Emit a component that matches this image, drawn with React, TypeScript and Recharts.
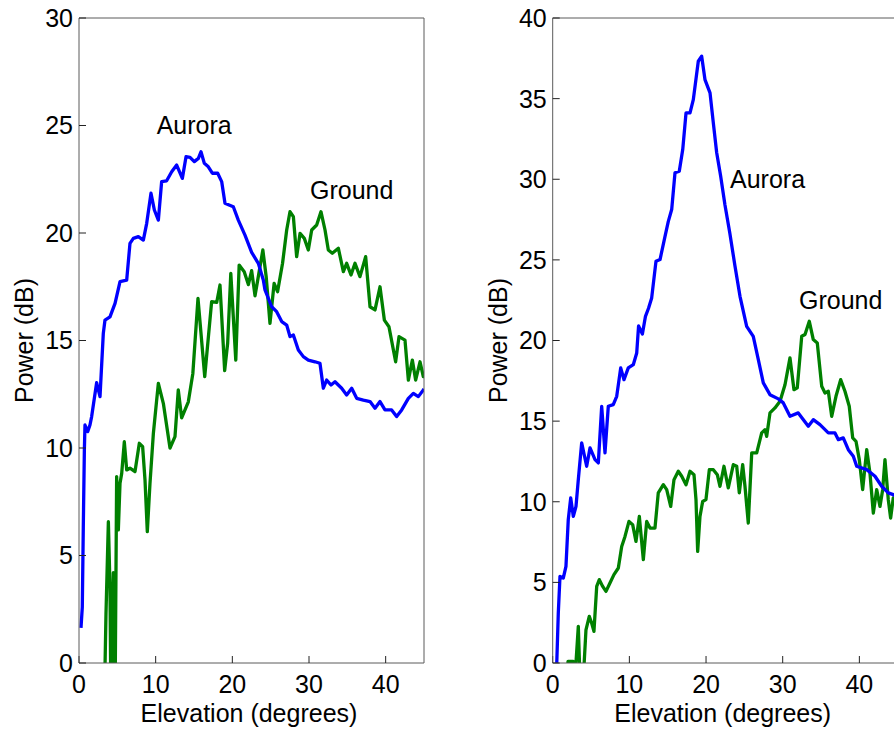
import React from 'react';
import { LineChart, Line, XAxis, YAxis, ReferenceDot } from 'recharts';

const FONT = '"Liberation Sans", Arial, Helvetica, sans-serif';

const elevationTicks = [0, 10, 20, 30, 40];
const leftPowerTicks = [0, 5, 10, 15, 20, 25, 30];
const rightPowerTicks = [0, 5, 10, 15, 20, 25, 30, 35, 40];

const xTitle = 'Elevation (degrees)';
const yTitle = 'Power (dB)';
const auroraName = 'Aurora';
const groundName = 'Ground';

// Left panel, Aurora (blue)
const leftAuroraX = [0.26, 0.43, 0.56, 0.7, 0.78, 1.13, 1.43, 1.65, 2.3, 2.74, 3.17, 3.39, 4.04, 4.7, 5.35, 6.22, 6.65, 7.09, 7.74, 8.39, 8.83, 9.39, 9.83, 10.35, 10.78, 11.43, 12.09, 12.74, 13.48, 13.96, 14.48, 15.04, 15.57, 15.91, 16.35, 16.87, 17.39, 18.09, 18.61, 19.04, 19.57, 20.13, 20.78, 21.65, 22.52, 23.39, 24.04, 24.26, 25.13, 25.78, 26.44, 27.09, 27.52, 27.96, 28.61, 29.26, 29.91, 30.78, 31.43, 31.87, 32.3, 32.87, 33.39, 34.26, 34.91, 35.57, 36.22, 37.09, 37.96, 38.61, 39.26, 39.91, 40.78, 41.43, 42.09, 42.96, 43.61, 44.26, 44.91, 45];
const leftAuroraY = [1.63, 2.6, 6.3, 9.9, 11.07, 10.76, 11.07, 11.46, 13.04, 12.39, 15.33, 15.95, 16.1, 16.73, 17.74, 17.81, 19.52, 19.75, 19.83, 19.67, 20.45, 21.85, 21.07, 20.6, 22.39, 22.43, 22.85, 23.16, 22.54, 23.55, 23.52, 23.32, 23.47, 23.78, 23.24, 23.08, 22.78, 22.78, 22.39, 21.38, 21.3, 21.22, 20.6, 19.9, 19.1, 18.59, 17.81, 17.35, 16.57, 16.34, 15.88, 15.72, 15.18, 15.26, 14.56, 14.25, 14.09, 14.01, 13.94, 12.78, 13.16, 12.93, 13.08, 12.78, 12.47, 12.78, 12.31, 12.23, 12.16, 11.85, 12.16, 11.77, 11.77, 11.46, 11.77, 12.31, 12.54, 12.39, 12.7, 12.75];

// Left panel, Ground (green)
const leftGroundX = [3.3, 3.52, 3.83, 4.04, 4.17, 4.48, 4.7, 4.91, 5.13, 5.35, 5.57, 5.91, 6.22, 6.65, 7.3, 7.87, 8.3, 8.61, 8.91, 9.26, 9.7, 10.13, 10.35, 11.0, 11.87, 12.52, 12.95, 13.39, 14.26, 14.85, 15.52, 16.4, 17.3, 17.96, 18.39, 19.0, 19.39, 19.8, 20.45, 20.89, 21.55, 22.09, 22.52, 22.96, 23.45, 23.98, 24.42, 24.91, 25.45, 25.9, 26.55, 27.09, 27.52, 27.96, 28.39, 28.83, 29.39, 29.91, 30.35, 31.0, 31.56, 32.09, 32.52, 33.04, 33.83, 34.48, 34.91, 35.48, 36.0, 36.65, 37.39, 37.96, 38.61, 39.26, 39.83, 40.43, 41.3, 41.74, 42.52, 42.96, 43.48, 43.91, 44.48, 44.91, 45];
const leftGroundY = [-2, 2.3, 6.57, 3.55, -2, 4.2, -2, 8.67, 6.19, 8.36, 8.82, 10.29, 8.98, 9.06, 8.9, 10.22, 10.06, 8.51, 6.11, 8.36, 10.68, 12.23, 13.0, 12.08, 10.0, 10.53, 12.7, 11.4, 12.15, 13.47, 16.96, 13.32, 16.81, 16.77, 17.58, 13.6, 14.87, 18.12, 14.09, 18.51, 18.2, 17.6, 18.25, 17.08, 18.1, 19.21, 17.95, 15.8, 17.66, 17.27, 18.59, 20.14, 20.99, 20.76, 18.9, 19.98, 19.75, 19.21, 20.14, 20.37, 20.99, 20.14, 19.21, 19.06, 19.29, 18.2, 18.59, 18.05, 18.59, 17.97, 18.9, 16.57, 16.42, 17.5, 15.95, 15.64, 14.01, 15.18, 15.02, 13.16, 14.09, 13.16, 14.01, 13.32, 13.5];

// Right panel, Aurora (blue)
const rightAuroraX = [0.5, 0.73, 0.95, 1.38, 1.73, 2.03, 2.35, 2.69, 3.04, 3.34, 3.78, 4.43, 4.87, 5.52, 5.95, 6.39, 6.82, 7.25, 7.9, 8.35, 8.87, 9.3, 9.86, 10.51, 10.96, 11.2, 11.7, 12.1, 12.5, 12.91, 13.47, 14.0, 14.65, 15.08, 15.52, 15.95, 16.51, 16.96, 17.39, 17.91, 18.34, 18.99, 19.43, 19.86, 20.52, 20.95, 21.39, 21.91, 22.47, 23.1, 23.78, 24.43, 25.3, 26.16, 26.82, 27.47, 28.34, 29.43, 30.08, 30.95, 32.03, 33.34, 33.99, 34.86, 35.95, 36.82, 37.26, 37.9, 38.56, 39.21, 39.65, 40.96, 42.04, 42.91, 43.77, 44.42, 45];
const rightAuroraY = [-0.5, 3.1, 5.37, 5.27, 5.99, 8.89, 10.24, 9.09, 9.71, 11.37, 13.65, 12.2, 13.34, 12.61, 12.41, 15.92, 13.03, 15.92, 16.02, 16.54, 18.3, 17.57, 18.3, 18.5, 19.23, 20.9, 20.4, 21.5, 22.0, 22.64, 24.91, 25.02, 26.46, 27.39, 28.12, 30.4, 30.5, 31.84, 34.12, 34.12, 34.94, 37.32, 37.63, 36.18, 35.36, 33.5, 31.64, 30.19, 28.4, 26.67, 24.6, 22.74, 20.88, 20.26, 18.81, 17.37, 16.64, 16.38, 16.13, 15.3, 15.51, 14.68, 15.09, 14.78, 14.27, 14.27, 13.85, 13.96, 13.23, 12.82, 12.2, 11.99, 11.58, 10.96, 10.55, 10.44, 10.3];

// Right panel, Ground (green)
const rightGroundX = [1.9, 2.0, 2.69, 2.9, 3.34, 3.56, 3.99, 4.34, 4.77, 5.08, 5.38, 5.74, 6.08, 6.52, 6.95, 7.47, 7.99, 8.56, 9.0, 9.43, 9.95, 10.43, 10.86, 11.3, 11.82, 12.26, 12.69, 13.34, 13.77, 14.43, 14.87, 15.39, 15.82, 16.38, 16.83, 17.39, 17.91, 18.43, 18.69, 18.91, 19.21, 19.56, 19.99, 20.43, 20.95, 21.47, 21.82, 22.34, 22.9, 23.56, 24.0, 24.34, 24.78, 25.08, 25.51, 25.96, 26.61, 27.26, 27.69, 27.91, 28.34, 28.99, 29.65, 30.3, 30.95, 31.47, 31.9, 32.48, 32.91, 33.47, 33.99, 34.51, 35.09, 35.52, 35.95, 36.39, 36.95, 37.56, 38.12, 38.68, 39.13, 39.56, 39.99, 40.43, 40.96, 41.38, 41.82, 42.26, 42.69, 43.04, 43.34, 43.77, 44.08, 44.42, 45];
const rightGroundY = [-1, 0.1, 0.1, -1, 2.27, -1, -1, 2.06, 2.89, 2.48, 1.96, 4.75, 5.17, 4.75, 4.44, 4.96, 5.48, 5.89, 7.23, 7.85, 8.78, 8.58, 7.54, 9.09, 6.41, 8.78, 8.37, 8.37, 10.55, 11.06, 10.75, 9.71, 11.37, 11.89, 11.58, 11.06, 11.89, 11.68, 10.13, 6.92, 9.09, 10.02, 10.13, 11.99, 11.99, 11.68, 10.96, 12.2, 10.86, 12.3, 12.2, 10.55, 12.3, 10.96, 8.68, 13.03, 13.03, 14.27, 14.47, 14.06, 15.51, 15.82, 16.23, 17.26, 18.92, 16.95, 17.06, 20.26, 20.37, 21.19, 20.06, 19.85, 17.16, 16.75, 16.85, 15.3, 16.54, 17.57, 16.85, 15.92, 13.96, 13.75, 12.61, 10.75, 13.23, 11.79, 9.3, 10.75, 9.71, 10.75, 12.61, 10.13, 8.99, 10.24, 9.5];

const zip = (xs: number[], ys: number[]) => xs.map((x, i) => ({ x, y: ys[i] }));

const AXIS_COLOR = '#5a5a5a';
const TICK_COLOR = '#222';
const BLUE = '#0000ff';
const GREEN = '#008000';
const LINE_W = 3.3;

const tickStyle = { fill: '#000', fontSize: 25, fontFamily: FONT };

type PanelProps = {
  left: number;
  width: number;
  marginLeft: number;
  marginRight: number;
  yMax: number;
  yTicks: number[];
  aurora: { x: number; y: number }[];
  ground: { x: number; y: number }[];
  auroraAt: [number, number];
  groundAt: [number, number];
};

const HEIGHT = 730;
const Y_AXIS_W = 50;
const R_AXIS_W = 10;
const TOP_AXIS_H = 10;
const X_AXIS_H = 40;

function Panel(p: PanelProps) {
  const plotLeft = p.marginLeft + Y_AXIS_W;
  const plotRight = p.width - p.marginRight - R_AXIS_W;
  const plotTop = 8 + TOP_AXIS_H;
  const plotBottom = HEIGHT - 27 - X_AXIS_H;
  const cx = (plotLeft + plotRight) / 2 - 2.5;
  const cy = (plotTop + plotBottom) / 2;
  const labelStyle = { fill: '#000', fontSize: 25, fontFamily: FONT };
  return (
    <div style={{ position: 'absolute', left: p.left, top: 0 }}>
      <LineChart
        width={p.width}
        height={HEIGHT}
        margin={{ top: 8, right: p.marginRight, bottom: 27, left: p.marginLeft }}
      >
        <XAxis
          xAxisId="b"
          type="number"
          dataKey="x"
          domain={[0, 45]}
          ticks={elevationTicks}
          allowDataOverflow
          height={X_AXIS_H}
          orientation="bottom"
          tickSize={-7}
          tickMargin={19}
          axisLine={{ stroke: AXIS_COLOR }}
          tickLine={{ stroke: TICK_COLOR }}
          tick={tickStyle}
          interval={0}
        />
        <XAxis
          xAxisId="t"
          type="number"
          dataKey="x"
          domain={[0, 45]}
          ticks={elevationTicks}
          allowDataOverflow
          height={TOP_AXIS_H}
          orientation="top"
          tickSize={-7}
          tick={false}
          axisLine={{ stroke: AXIS_COLOR }}
          tickLine={{ stroke: TICK_COLOR }}
          interval={0}
        />
        <YAxis
          yAxisId="l"
          type="number"
          domain={[0, p.yMax]}
          ticks={p.yTicks}
          allowDataOverflow
          width={Y_AXIS_W}
          orientation="left"
          tickSize={-7}
          tickMargin={13}
          axisLine={{ stroke: AXIS_COLOR }}
          tickLine={{ stroke: TICK_COLOR }}
          tick={tickStyle}
          interval={0}
        />
        <YAxis
          yAxisId="r"
          type="number"
          domain={[0, p.yMax]}
          ticks={p.yTicks}
          allowDataOverflow
          width={R_AXIS_W}
          orientation="right"
          tickSize={-7}
          tick={false}
          axisLine={{ stroke: AXIS_COLOR }}
          tickLine={{ stroke: TICK_COLOR }}
          interval={0}
        />
        <Line
          xAxisId="b"
          yAxisId="l"
          data={p.ground}
          dataKey="y"
          type="linear"
          stroke={GREEN}
          strokeWidth={LINE_W}
          dot={false}
          activeDot={false}
          isAnimationActive={false}
          strokeLinejoin="round"
        />
        <Line
          xAxisId="b"
          yAxisId="l"
          data={p.aurora}
          dataKey="y"
          type="linear"
          stroke={BLUE}
          strokeWidth={LINE_W}
          dot={false}
          activeDot={false}
          isAnimationActive={false}
          strokeLinejoin="round"
        />
        <ReferenceDot
          xAxisId="b"
          yAxisId="l"
          x={p.auroraAt[0]}
          y={p.auroraAt[1]}
          r={1}
          fill="none"
          stroke="none"
          label={{ value: auroraName, position: 'right', offset: 0, ...labelStyle }}
        />
        <ReferenceDot
          xAxisId="b"
          yAxisId="l"
          x={p.groundAt[0]}
          y={p.groundAt[1]}
          r={1}
          fill="none"
          stroke="none"
          label={{ value: groundName, position: 'right', offset: 0, ...labelStyle }}
        />
        <text x={cx} y={722} textAnchor="middle" {...labelStyle}>
          {xTitle}
        </text>
        <text
          x={plotLeft - 46}
          y={cy}
          textAnchor="middle"
          transform={`rotate(-90, ${plotLeft - 46}, ${cy})`}
          {...labelStyle}
        >
          {yTitle}
        </text>
      </LineChart>
    </div>
  );
}

export default function App() {
  return (
    <div
      style={{
        position: 'absolute',
        left: 0,
        top: 0,
        width: 894,
        height: 730,
        overflow: 'hidden',
        background: '#fff',
      }}
    >
      <Panel
        left={0}
        width={440}
        marginLeft={29}
        marginRight={6}
        yMax={30}
        yTicks={leftPowerTicks}
        aurora={zip(leftAuroraX, leftAuroraY)}
        ground={zip(leftGroundX, leftGroundY)}
        auroraAt={[10, 25]}
        groundAt={[30, 22]}
      />
      <Panel
        left={450}
        width={460}
        marginLeft={52.7}
        marginRight={2.3}
        yMax={40}
        yTicks={rightPowerTicks}
        aurora={zip(rightAuroraX, rightAuroraY)}
        ground={zip(rightGroundX, rightGroundY)}
        auroraAt={[23, 30]}
        groundAt={[32, 22.5]}
      />
    </div>
  );
}
